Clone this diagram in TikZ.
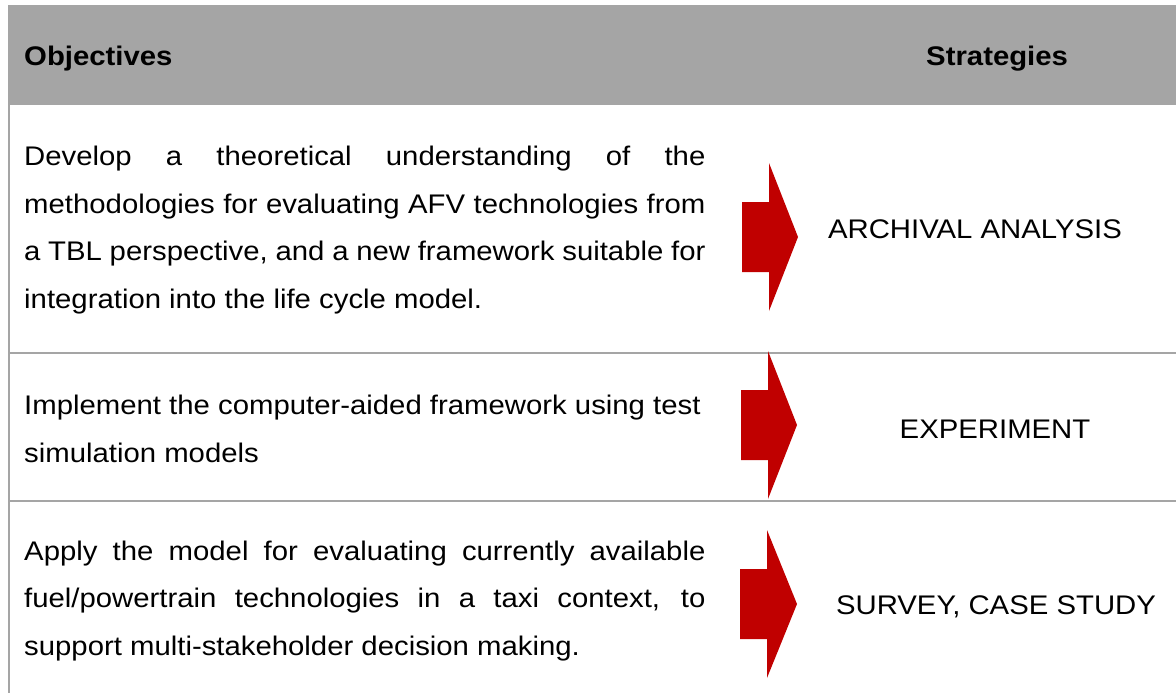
\documentclass[tikz,border=0pt]{standalone}
\usepackage{fontspec}
\setmainfont{Liberation Sans}
\definecolor{hdrgray}{HTML}{A5A5A5}
\definecolor{arrowred}{HTML}{C00000}
\tikzset{
  txt/.style={anchor=base west, inner sep=0pt, xscale=1.09, transform shape,
    font=\fontsize{26.9}{31}\selectfont},
  ctxt/.style={txt, anchor=base},
  rule/.style={draw=hdrgray, line width=2pt},
  redarrow/.style={fill=arrowred, draw=none}
}
\newcommand{\jline}[1]{\makebox[625pt][s]{#1}}
\begin{document}
\begin{tikzpicture}[x=1pt,y=-1pt]
\useasboundingbox (0,0) rectangle (1176,693);
% header band
\fill[hdrgray] (8,5) rectangle (1176,105);
% rules
\draw[rule] (9,105) -- (9,693);
\draw[rule] (9,353) -- (1176,353);
\draw[rule] (9,501) -- (1176,501);
% header texts
\node[txt, font=\fontsize{26.9}{31}\selectfont\bfseries] (hobj) at (24,66) {Objectives};
\node[txt, font=\fontsize{26.9}{31}\selectfont\bfseries] (hstr) at (926,66) {Strategies};
% row 1
\node[txt] (r1a) at (24,165.5) {\jline{Develop a theoretical understanding of the}};
\node[txt] (r1b) at (24,213) {\jline{methodologies for evaluating AFV technologies from}};
\node[txt] (r1c) at (24,260.5) {\jline{a TBL perspective, and a new framework suitable for}};
\node[txt] (r1d) at (24,308) {integration into the life cycle model.};
% row 2
\node[txt] (r2a) at (24,414.5) {Implement the computer-aided framework using test};
\node[txt] (r2b) at (24,462) {simulation models};
% row 3
\node[txt] (r3a) at (24,560.5) {\jline{Apply the model for evaluating currently available}};
\node[txt] (r3b) at (24,607.5) {\jline{fuel/powertrain technologies in a taxi context, to}};
\node[txt] (r3c) at (24,655) {support multi-stakeholder decision making.};
% arrows
\path[redarrow] (742,202) -- (769,202) -- (769,163) -- (798,237) -- (769,311) -- (769,272) -- (742,272) -- cycle;
\path[redarrow] (741,390) -- (768,390) -- (768,351) -- (797,425) -- (768,499) -- (768,460) -- (741,460) -- cycle;
\path[redarrow] (740,569) -- (767,569) -- (767,530) -- (797,604) -- (767,678) -- (767,639) -- (740,639) -- cycle;
% strategies
\node[ctxt] (s1) at (975,238) {ARCHIVAL ANALYSIS};
\node[ctxt] (s2) at (995,438) {EXPERIMENT};
\node[ctxt] (s3) at (996,614.5) {SURVEY, CASE STUDY};
\end{tikzpicture}
\end{document}
